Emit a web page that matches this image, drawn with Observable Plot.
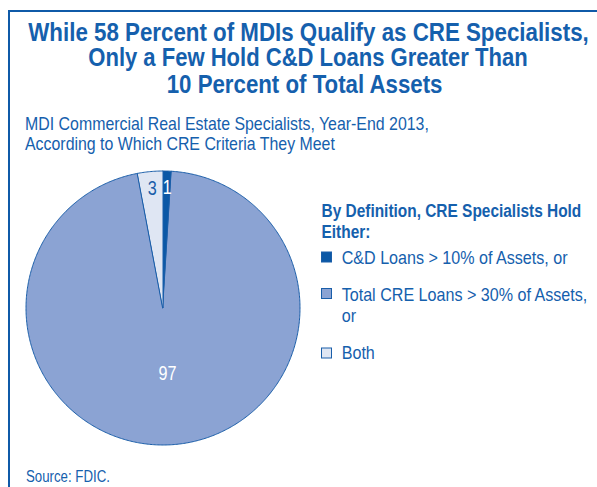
<!DOCTYPE html>
<html>
<head>
<meta charset="utf-8">
<script src="https://cdn.jsdelivr.net/npm/d3@7"></script>
<script src="https://cdn.jsdelivr.net/npm/@observablehq/plot@0.6"></script>
<style>
  html, body { margin: 0; padding: 0; background: #fff; }
  #wrap { position: relative; width: 597px; height: 487px; overflow: hidden; }
  #frame { position: absolute; left: 8px; top: 10px; width: 640px; height: 520px; border-top: 2px solid #0f5aa8; border-left: 2px solid #0f5aa8; }
  #chart { position: absolute; left: 23px; top: 167.5px; }
  #overlay { position: absolute; left: 0; top: 0; }
  #overlay text { font-family: "Liberation Sans", Arial, Helvetica, sans-serif; fill: #1560ad; }
</style>
</head>
<body>
<div id="wrap">
  <div id="frame"></div>
  <div id="chart"></div>
  <svg id="overlay" width="597" height="487" xmlns="http://www.w3.org/2000/svg"></svg>
</div>
<script>
const titleLines = ["While 58 Percent of MDIs Qualify as CRE Specialists,", "Only a Few Hold C&D Loans Greater Than", "10 Percent of Total Assets"];
const subtitleLines = ["MDI Commercial Real Estate Specialists, Year-End 2013,", "According to Which CRE Criteria They Meet"];
const legendTitleLines = ["By Definition, CRE Specialists Hold", "Either:"];
const categories = ["C&D Loans > 10% of Assets, or", "Total CRE Loans > 30% of Assets, or", "Both"];
const legendLines = [["C&D Loans > 10% of Assets, or"], ["Total CRE Loans > 30% of Assets,", "or"], ["Both"]];
const sourceText = "Source: FDIC.";
const values = [1, 97, 3];
const valueLabels = ["1", "97", "3"];
const colors = ["#0b58a6", "#8ba3d3", "#dfe6f3"];
const labelColors = ["#ffffff", "#ffffff", "#1a5ea9"];

// ---------- pie via Plot ----------
const arcs = d3.pie().sort(null).value(d => d)(values);
const wedgeRows = [];
arcs.forEach((a, i) => {
  const n = Math.max(4, Math.ceil((a.endAngle - a.startAngle) / 0.01));
  for (let k = 0; k <= n; k++) {
    const t = a.startAngle + (a.endAngle - a.startAngle) * k / n;
    wedgeRows.push({cat: categories[i], x1: 0, y1: 0, x2: Math.sin(t), y2: Math.cos(t)});
  }
});
const labelRows = arcs.map((a, i) => {
  const mid = (a.startAngle + a.endAngle) / 2;
  const r = values[i] > 50 ? 0.48 : 0.88;
  return {label: valueLabels[i], x: r * Math.sin(mid), y: r * Math.cos(mid), c: labelColors[i]};
});
const R = 137, M = 3;
const plot = Plot.plot({
  width: 2 * R + 2 * M,
  height: 2 * R + 2 * M,
  margin: M,
  x: {domain: [-1, 1], axis: null},
  y: {domain: [-1, 1], axis: null},
  color: {domain: categories, range: colors},
  style: {background: "transparent", fontFamily: "'Liberation Sans', Arial, sans-serif"},
  marks: [
    Plot.area(wedgeRows, {x1: "x1", y1: "y1", x2: "x2", y2: "y2", z: "cat", fill: "cat", stroke: "#1a5ea9", strokeWidth: 1, curve: "linear"}),
    Plot.text(labelRows, {x: "x", y: "y", text: "label", fill: "c", fontSize: 19.5})
  ]
});
document.getElementById("chart").appendChild(plot);
plot.querySelectorAll("text").forEach(t => {
  const w = t.getComputedTextLength();
  if (w > 0) { t.setAttribute("textLength", (w * 0.83).toFixed(2)); t.setAttribute("lengthAdjust", "spacingAndGlyphs"); }
});

// ---------- titles, legend, source (condensed by horizontal scaling) ----------
const svg = d3.select("#overlay");
function addLine(str, x, y, size, weight, scaleOrTarget, isTarget) {
  const t = svg.append("text").attr("x", 0).attr("y", 0).attr("font-size", size)
    .attr("font-weight", weight).text(str);
  const w = t.node().getComputedTextLength();
  const s = isTarget ? scaleOrTarget / w : scaleOrTarget;
  t.attr("transform", `translate(${x},${y}) scale(${s.toFixed(4)},1)`);
  return s;
}

// title
const titleStarts = [28.3, 88.3, 166.7], titleEnds = [589, 528, 442.7], titleBase = [40.5, 66.2, 92.8];
titleLines.forEach((s, i) => addLine(s, titleStarts[i], titleBase[i], 25, "bold", titleEnds[i] - titleStarts[i], true));

// subtitle
let f = addLine(subtitleLines[0], 25, 130, 17.6, "normal", 404, true);
addLine(subtitleLines[1], 25, 150, 17.6, "normal", f, false);

// legend title
f = addLine(legendTitleLines[0], 321.5, 216.7, 18.6, "bold", 260, true);
addLine(legendTitleLines[1], 321.5, 238.3, 18.6, "bold", f, false);

// legend items
const swatchY = [252, 288.5, 348];
const itemBase = [[264], [300.7, 321.7], [359]];
let fi = null;
legendLines.forEach((lines, i) => {
  svg.append("rect").attr("x", 321.5).attr("y", swatchY[i]).attr("width", 10).attr("height", 10)
    .attr("fill", colors[i]).attr("stroke", "#1a5ea9").attr("stroke-width", 1);
  lines.forEach((s, j) => {
    if (fi === null) fi = addLine(s, 341.7, itemBase[i][j], 18, "normal", 226, true);
    else addLine(s, 341.7, itemBase[i][j], 18, "normal", fi, false);
  });
});

// source
addLine(sourceText, 26, 481.5, 17, "normal", 84, true);
</script>
</body>
</html>
